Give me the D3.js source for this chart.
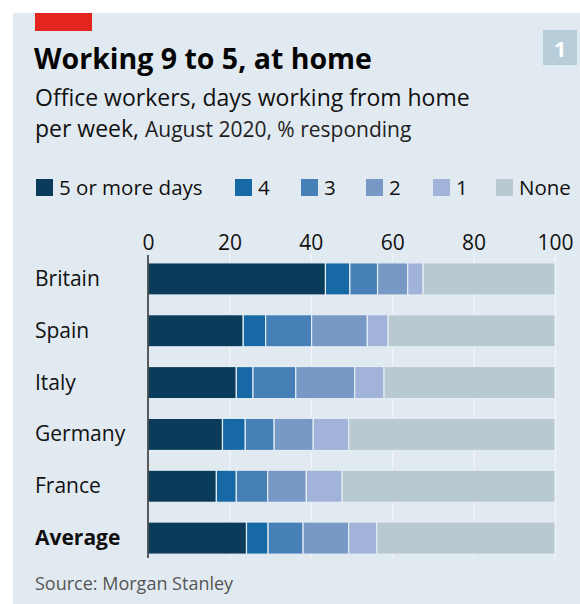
<!DOCTYPE html>
<html>
<head>
<meta charset="utf-8">
<script src="https://cdn.jsdelivr.net/npm/d3@7"></script>
<style>
  body { margin: 0; background: #fff; }
  svg { display: block; font-family: "Open Sans", sans-serif; }
</style>
</head>
<body>
<script>
const w = 580;
const h = 604;

// data (% responding)
const countries = ["Britain", "Spain", "Italy", "Germany", "France", "Average"];
const keys = ["5 or more days", "4", "3", "2", "1", "None"];
const fivePlus = [43.6, 23.4, 21.7, 18.3, 16.8, 24.2];
const four     = [6.0, 5.5, 4.1, 5.6, 4.9, 5.3];
const three    = [6.8, 11.3, 10.5, 7.1, 7.7, 8.6];
const two      = [7.4, 13.7, 14.5, 9.6, 9.5, 11.2];
const one      = [3.8, 5.1, 7.2, 8.7, 8.8, 6.9];
const none     = [32.4, 41.0, 42.0, 50.7, 52.3, 43.8];
const xTicks = [0, 20, 40, 60, 80, 100];

const colors = ["#0a3b5a", "#1769a5", "#4680b7", "#7899c6", "#a1b3d8", "#b9c9d1"];

const table = countries.map(function(c, i) {
  return {country: c, "5 or more days": fivePlus[i], "4": four[i], "3": three[i],
          "2": two[i], "1": one[i], "None": none[i]};
});

const svg = d3.select("body").append("svg")
  .attr("width", w)
  .attr("height", h);

// panel
svg.append("rect")
  .attr("x", 13).attr("y", 13)
  .attr("width", w - 13).attr("height", h - 13)
  .attr("fill", "#e2eaf1");

svg.append("rect")
  .attr("x", 35).attr("y", 13)
  .attr("width", 57).attr("height", 18)
  .attr("fill", "#e3241f");

// chart number box
svg.append("rect")
  .attr("x", 543).attr("y", 30)
  .attr("width", 34).attr("height", 35)
  .attr("fill", "#b7cdd9");
svg.append("text")
  .attr("x", 560).attr("y", 57)
  .attr("text-anchor", "middle")
  .attr("font-size", 22).attr("font-weight", 700)
  .attr("fill", "#fff")
  .text("1");

// titles
svg.append("text")
  .attr("x", 34).attr("y", 69)
  .attr("font-size", 28.5).attr("font-weight", 700)
  .attr("fill", "#050505")
  .text("Working 9 to 5, at home");

svg.append("text")
  .attr("x", 35).attr("y", 106)
  .attr("font-size", 23)
  .attr("fill", "#111")
  .text("Office workers, days working from home");

const sub2 = svg.append("text")
  .attr("x", 35).attr("y", 137)
  .attr("font-size", 23)
  .attr("fill", "#111");
sub2.append("tspan").text("per week, ");
sub2.append("tspan").attr("font-size", 21).attr("fill", "#222").text("August 2020, % responding");

// legend
const legendX = [36, 235, 301, 366, 433, 496];
const legend = svg.append("g").selectAll("g")
  .data(keys)
  .enter().append("g")
  .attr("transform", function(d, i) { return "translate(" + legendX[i] + ",179)"; });
legend.append("rect")
  .attr("width", 17).attr("height", 17)
  .attr("fill", function(d, i) { return colors[i]; });
legend.append("text")
  .attr("x", 23).attr("y", 16)
  .attr("font-size", 20.5)
  .attr("fill", "#111")
  .text(function(d) { return d; });

// scales
const xScale = d3.scaleLinear().domain([0, 100]).range([148, 555]);
const yScale = d3.scaleBand().domain(countries)
  .range([253, 564])
  .paddingInner(0.38)
  .paddingOuter(0.19);

// grid
svg.append("g")
  .attr("class", "grid")
  .attr("transform", "translate(0,254)")
  .call(d3.axisBottom(xScale).tickValues(xTicks.slice(1)).tickSize(304).tickFormat(""))
  .call(function(g) { g.select(".domain").remove(); })
  .call(function(g) { g.selectAll("line").attr("stroke", "#f3f6f9").attr("stroke-width", 1.2); });

// top axis labels
svg.append("g")
  .attr("transform", "translate(0,250)")
  .call(d3.axisTop(xScale).tickValues(xTicks).tickSize(0).tickPadding(0))
  .call(function(g) { g.select(".domain").remove(); })
  .call(function(g) {
    g.selectAll("text")
      .attr("font-family", "Open Sans, sans-serif")
      .attr("font-size", 21)
      .attr("fill", "#111")
      .attr("dy", 0);
  });

// stacked bars
const series = d3.stack().keys(keys)(table);

svg.append("g").selectAll("g")
  .data(series)
  .enter().append("g")
  .attr("fill", function(d, i) { return colors[i]; })
  .selectAll("rect")
  .data(function(d) { return d; })
  .enter().append("rect")
  .attr("x", function(d) { return xScale(d[0]); })
  .attr("y", function(d) { return yScale(d.data.country); })
  .attr("width", function(d) { return xScale(d[1]) - xScale(d[0]); })
  .attr("height", yScale.bandwidth())
  .attr("stroke", "#e4edf4")
  .attr("stroke-width", 1.2);

// left axis line
svg.append("line")
  .attr("x1", 148).attr("x2", 148)
  .attr("y1", 255).attr("y2", 558)
  .attr("stroke", "#2b2b2b")
  .attr("stroke-width", 1.5);

// category labels
svg.append("g").selectAll("text")
  .data(countries)
  .enter().append("text")
  .attr("x", 35)
  .attr("y", function(d) { return yScale(d) + yScale.bandwidth() / 2 + 7; })
  .attr("font-size", 21)
  .attr("font-weight", function(d) { return d === "Average" ? 700 : 400; })
  .attr("fill", "#111")
  .text(function(d) { return d; });

// source
svg.append("text")
  .attr("x", 35).attr("y", 590)
  .attr("font-size", 18)
  .attr("fill", "#555")
  .text("Source: Morgan Stanley");
</script>
</body>
</html>
